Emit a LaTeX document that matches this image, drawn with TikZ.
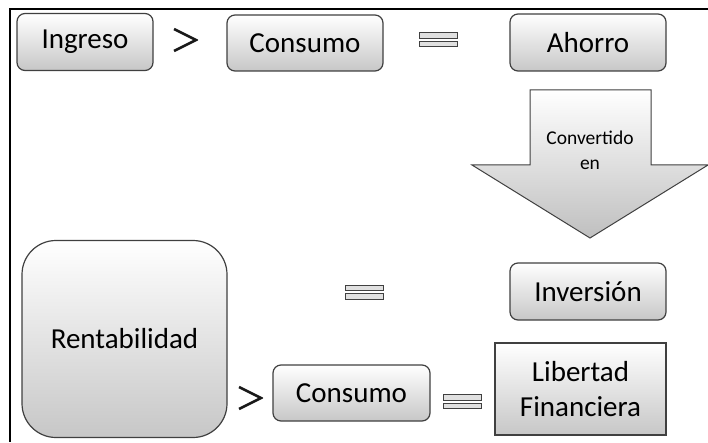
\documentclass[tikz,border=0pt]{standalone}
\usepackage{fontspec}
\setmainfont{Carlito}
\usepackage{tikz}
\usetikzlibrary{positioning, calc, shadings}
\tikzset{caja/.style = {
  % Rectangle:
  rectangle,
  draw=black!75, line width=1.2pt, rounded corners=8pt,
  top color=white, bottom color=black!22,
  % Text
  text centered, align=center, inner sep=0pt,
  font=\fontsize{29}{35}\selectfont
  }}
\tikzset{cajaplana/.style = {
  caja,
  rounded corners=0pt
  }}
\tikzset{mayor/.style = {
  minimum width=26pt, minimum height=26pt, inner sep=0pt,
  path picture={
    \draw[line width=2.6pt, black!90]
      ($(path picture bounding box.north west)+(2pt,-2pt)$) --
      ($(path picture bounding box.east)+(-2pt,0pt)$) --
      ($(path picture bounding box.south west)+(2pt,2pt)$);
  }
  }}
\tikzset{igual/.style = {
  minimum width=40pt, minimum height=16pt, inner sep=0pt,
  path picture={
    \draw[draw=black!75, fill=black!12, line width=1pt]
      ($(path picture bounding box.north west)+(1pt,-1pt)$) rectangle
      ($(path picture bounding box.east)+(-1pt,1.5pt)$);
    \draw[draw=black!75, fill=black!12, line width=1pt]
      ($(path picture bounding box.west)+(1pt,-1.5pt)$) rectangle
      ($(path picture bounding box.south east)+(-1pt,1pt)$);
  }
  }}
\tikzset{flecha/.style = {
  draw=black!75, line width=1pt,
  top color=white, bottom color=black!25
  }}

\begin{document}
\begin{tikzpicture}[x=1pt, y=1pt]
\useasboundingbox (0,0) rectangle (708,442);

% FRAME
\draw[line width=1.5pt] (708,433) -- (10,433) -- (10,0);

% NODES
\node (ingreso) [caja, minimum width=136pt, minimum height=57pt] at (85,400) {Ingreso};
\node (mayor1) [mayor] at (185,402) {};
\node (consumo) [caja, minimum width=156pt, minimum height=56pt] at (305,399) {Consumo};
\node (igual1) [igual] at (438,402) {};
\node (ahorro) [caja, minimum width=156pt, minimum height=57pt] at (588,399.5) {Ahorro};

% arrow
\draw[flecha] (530,352) -- (651,352) -- (651,277) -- (708,277)
  -- (590,204) -- (472,277) -- (530,277) -- cycle;
\node (convertido) [align=center, font=\fontsize{19.5}{25}\selectfont] at (590,292) {Convertido\\en};

\node (inversion) [caja, minimum width=156pt, minimum height=57pt] at (588,150.5) {Inversión};
\node (igual2) [igual] at (364,150) {};
\node (renta) [caja, rounded corners=34pt, minimum width=205pt, minimum height=197pt] at (124.5,103) {Rentabilidad};

\node (mayor2) [mayor] at (250,44) {};
\node (consumo2) [caja, minimum width=157pt, minimum height=56pt] at (351.5,49) {Consumo};
\node (igual3) [igual] at (462.5,40.5) {};
\node (libertad) [cajaplana, minimum width=171pt, minimum height=92pt] at (580.5,53) {Libertad\\Financiera};
\end{tikzpicture}
\end{document}
